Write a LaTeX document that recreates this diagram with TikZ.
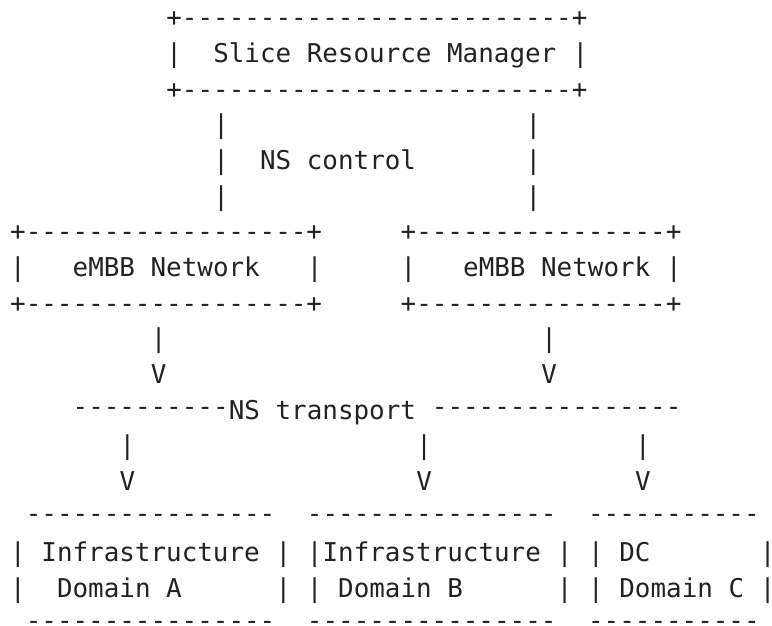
\documentclass[tikz,border=0pt]{standalone}
\usepackage{fontspec}
\setmonofont{DejaVu Sans Mono}[WordSpace={1,0,0}]
\definecolor{ink}{HTML}{222222}
% character grid: cell width, first cell's left edge, first baseline, line pitch
\newcommand\cellw{15.62pt}
\newcommand\cellx{10.2pt}
\newcommand\basey{26.8pt}
\newcommand\pitch{35.67pt}
% \asc{name}{column}{row}{text}: one run of monospaced characters on the grid
\newcommand\asc[4]{\node[ascii] (#1) at ({\cellx+\cellw*#2},{-(\basey+\pitch*(#3-1))}) {#4};}
% repeated runs of hyphens; free-standing runs sit a little higher
\newcommand\dash[1]{\foreach\k in {1,...,#1}{-}}
\newcommand\hdash[1]{\raisebox{4pt}{\dash{#1}}}
\begin{document}
\begin{tikzpicture}[
  ascii/.style={anchor=base west, inner sep=0pt, outer sep=0pt, text=ink,
    font=\ttfamily\fontsize{25.9pt}{30pt}\selectfont}]
\useasboundingbox (0,0) rectangle (772pt,-626pt);

% Slice Resource Manager box
\asc{srmtop}{10}{1}{+\dash{25}+}
\asc{srml}{10}{2}{|}
\asc{srm}{13}{2}{Slice Resource Manager}
\asc{srmr}{36}{2}{|}
\asc{srmbot}{10}{3}{+\dash{25}+}

% NS control links
\asc{ctla1}{13}{4}{|}
\asc{ctlb1}{33}{4}{|}
\asc{ctla2}{13}{5}{|}
\asc{nsctl}{16}{5}{NS control}
\asc{ctlb2}{33}{5}{|}
\asc{ctla3}{13}{6}{|}
\asc{ctlb3}{33}{6}{|}

% two eMBB network boxes
\asc{neta top}{0}{7}{+\dash{18}+}
\asc{netb top}{25}{7}{+\dash{16}+}
\asc{netal}{0}{8}{|}
\asc{neta}{4}{8}{eMBB Network}
\asc{netar}{19}{8}{|}
\asc{netbl}{25}{8}{|}
\asc{netb}{29}{8}{eMBB Network}
\asc{netbr}{42}{8}{|}
\asc{netabot}{0}{9}{+\dash{18}+}
\asc{netbbot}{25}{9}{+\dash{16}+}

% arrows down to the transport line
\asc{arra1}{9}{10}{|}
\asc{arrb1}{34}{10}{|}
\asc{arra2}{9}{11}{V}
\asc{arrb2}{34}{11}{V}

% NS transport line
\asc{tra}{4}{12}{\hdash{10}}
\asc{ns}{14}{12}{NS transport}
\asc{trb}{27}{12}{\hdash{16}}

% arrows down to the domains
\asc{dnA1}{7}{13}{|}
\asc{dnB1}{26}{13}{|}
\asc{dnC1}{40}{13}{|}
\asc{dnA2}{7}{14}{V}
\asc{dnB2}{26}{14}{V}
\asc{dnC2}{40}{14}{V}

% infrastructure domain boxes
\asc{doma top}{1}{15}{\hdash{16}}
\asc{domb top}{19}{15}{\hdash{16}}
\asc{domc top}{37}{15}{\hdash{11}}

\asc{doma l1}{0}{16}{|}
\asc{doma t1}{2}{16}{Infrastructure}
\asc{doma r1}{17}{16}{|}
\asc{domb l1}{19}{16}{|}
\asc{domb t1}{20}{16}{Infrastructure}
\asc{domb r1}{35}{16}{|}
\asc{domc l1}{37}{16}{|}
\asc{domc t1}{39}{16}{DC}
\asc{domc r1}{48}{16}{|}

\asc{doma l2}{0}{17}{|}
\asc{doma t2}{3}{17}{Domain A}
\asc{doma r2}{17}{17}{|}
\asc{domb l2}{19}{17}{|}
\asc{domb t2}{21}{17}{Domain B}
\asc{domb r2}{35}{17}{|}
\asc{domc l2}{37}{17}{|}
\asc{domc t2}{39}{17}{Domain C}
\asc{domc r2}{48}{17}{|}

\asc{doma bot}{1}{18}{\hdash{16}}
\asc{domb bot}{19}{18}{\hdash{16}}
\asc{domc bot}{37}{18}{\hdash{11}}
\end{tikzpicture}
\end{document}
